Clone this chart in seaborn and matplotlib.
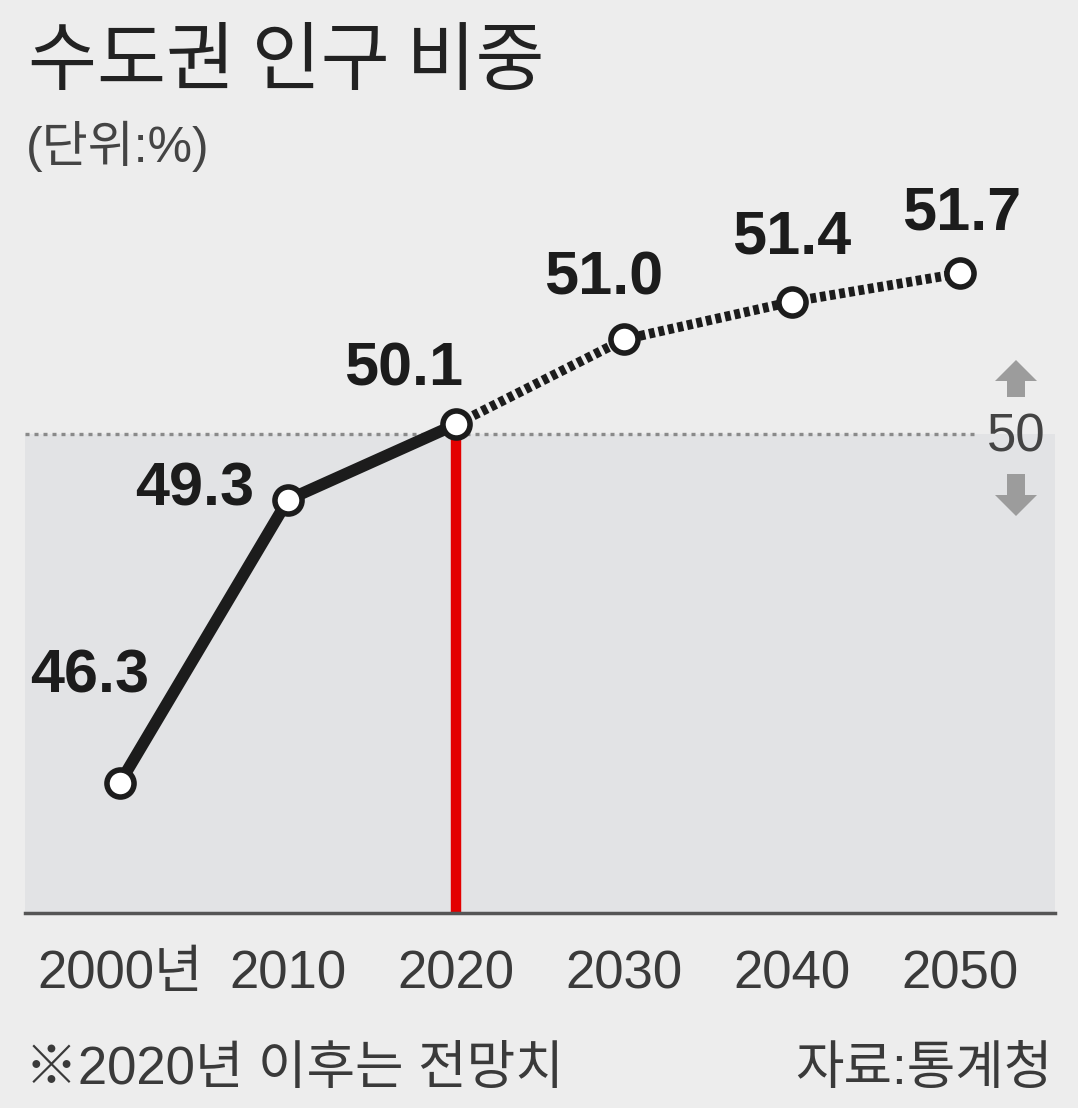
import matplotlib
matplotlib.use('Agg')
import matplotlib.pyplot as plt
import matplotlib.transforms as mtransforms
from matplotlib.patches import FancyArrow
from matplotlib import font_manager
import seaborn as sns
import pandas as pd

# ---- data ----
years = [2000, 2010, 2020, 2030, 2040, 2050]
share = [46.3, 49.3, 50.1, 51.0, 51.4, 51.7]
tick_labels = ['2000년', '2010', '2020', '2030', '2040', '2050']
value_labels = ['46.3', '49.3', '50.1', '51.0', '51.4', '51.7']
threshold = 50
threshold_label = '50'
projection_start = 2020

title = '수도권 인구 비중'
unit = '(단위:%)'
note = '※2020년 이후는 전망치'
source = '자료:통계청'

# ---- style ----
sns.set_theme(style='white')
names = {f.name for f in font_manager.fontManager.ttflist}
narrow = 'Liberation Sans Narrow' in names
LAT = 'Liberation Sans Narrow' if narrow else 'Liberation Sans'
KR = 'Noto Sans CJK KR'
plt.rcParams['font.family'] = [LAT, KR, 'DejaVu Sans']

BG = '#ededed'
FILL = '#e2e3e5'
INK = '#1c1c1c'
TXT = '#3a3a3a'

tick_fs = 47 if narrow else 38
val_fs = 54 if narrow else 44
foot_fs = 38
fifty_fs = 44 if narrow else 38

W, H = 1078, 1108
fig = plt.figure(figsize=(W / 100, H / 100), dpi=100, facecolor=BG)
pix = mtransforms.Affine2D().scale(1 / W, -1 / H).translate(0, 1) + fig.transFigure

ax = fig.add_axes([25 / W, (H - 913) / H, 1030 / W, (913 - 180) / H])
ax.set_facecolor(BG)
x0, x1 = 1994.35, 2055.65
y0, y1 = 44.92, 52.69
ax.set_xlim(x0, x1)
ax.set_ylim(y0, y1)

# shaded area below threshold
ax.axhspan(y0, threshold, color=FILL, zorder=0, lw=0)
# threshold dotted line
ax.axhline(threshold, xmin=0, xmax=0.922, color='#8a8a8a', lw=2.4,
           linestyle=(0, (1.2, 1.5)), zorder=1)

df = pd.DataFrame({'year': years, 'share': share})
actual = df[df['year'] <= projection_start]
proj = df[df['year'] >= projection_start]

# red vertical at projection start
ax.vlines(projection_start, y0, share[years.index(projection_start)],
          color='#e30000', lw=7.5, zorder=2)

sns.lineplot(data=actual, x='year', y='share', color=INK, lw=8.5, ax=ax,
             zorder=3, solid_capstyle='round')
sns.lineplot(data=proj, x='year', y='share', color=INK, lw=7, ax=ax,
             zorder=3, linestyle=(0, (0.6, 0.4)), dash_capstyle='butt')
sns.scatterplot(data=df, x='year', y='share', s=380, color='white',
                edgecolor=INK, linewidth=4, ax=ax, zorder=5)

offsets = [(-30, 106), (-93, 10), (-52, 54), (-20, 60), (0, 64), (2, 59)]
for xv, yv, lab, off in zip(years, share, value_labels, offsets):
    ax.annotate(lab, (xv, yv), xytext=off, textcoords='offset pixels',
                ha='center', va='center', fontsize=val_fs, fontweight='bold',
                color=INK, family=[LAT, KR])

# axes styling
for s in ['top', 'right', 'left']:
    ax.spines[s].set_visible(False)
ax.spines['bottom'].set_color('#555555')
ax.spines['bottom'].set_linewidth(2.5)
ax.set_xticks(years, tick_labels)
ax.set_yticks([])
ax.tick_params(axis='x', length=0, pad=26, labelsize=tick_fs, labelcolor=TXT)
ax.set_xlabel('')
ax.set_ylabel('')
ax.grid(False)

# threshold marker at right
fig.text(1016, 437, threshold_label, transform=pix, ha='center', va='center',
         fontsize=fifty_fs, color='#444444', family=[LAT])
fig.add_artist(FancyArrow(1016, 397, 0, -37, width=18, head_width=42,
                          head_length=21, length_includes_head=True,
                          color='#9c9c9c', lw=0, transform=pix))
fig.add_artist(FancyArrow(1016, 474, 0, 42, width=18, head_width=42,
                          head_length=21, length_includes_head=True,
                          color='#9c9c9c', lw=0, transform=pix))

# titles
fig.text(28, 62, title, transform=pix, ha='left', va='center', fontsize=54,
         color='#222222', family=[KR])
fig.text(26, 146, unit, transform=pix, ha='left', va='center', fontsize=36,
         color='#444444', family=[LAT, KR])

# footer
fig.text(25, 1070, note, transform=pix, ha='left', va='center',
         fontsize=foot_fs, color=TXT, family=[LAT, KR])
fig.text(1052, 1070, source, transform=pix, ha='right', va='center',
         fontsize=foot_fs, color=TXT, family=[LAT, KR])

fig.savefig('out.png', dpi=100, facecolor=BG)
